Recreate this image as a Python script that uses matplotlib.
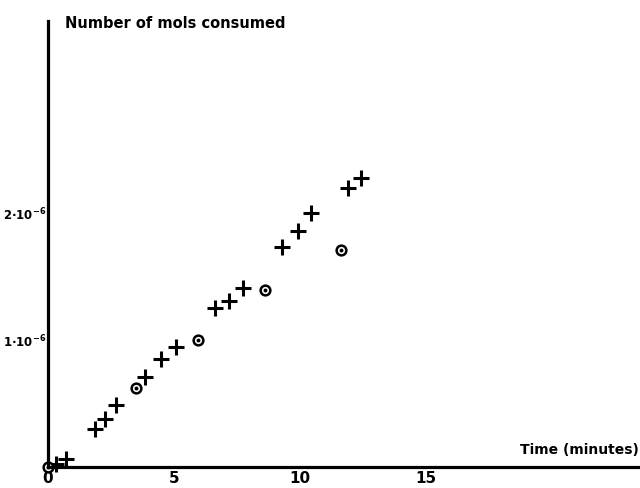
import matplotlib
matplotlib.use("Agg")
import matplotlib.pyplot as plt

plt.rcParams['font.family'] = ['DejaVu Sans']
plt.rcParams['mathtext.default'] = 'bf'

# Data (time in minutes, mols consumed)
cross_t = [0.3, 0.73, 1.87, 2.26, 2.71, 3.85, 4.5, 5.08, 6.61, 7.19, 7.75, 9.27, 9.92, 10.44, 11.92, 12.43]
cross_n = [0.025e-6, 0.063e-6, 0.30e-6, 0.376e-6, 0.486e-6, 0.703e-6, 0.847e-6, 0.941e-6,
           1.247e-6, 1.305e-6, 1.404e-6, 1.728e-6, 1.851e-6, 1.99e-6, 2.186e-6, 2.27e-6]
circle_t = [0.0, 3.48, 5.96, 8.61, 11.64]
circle_n = [0.0, 0.617e-6, 0.998e-6, 1.39e-6, 1.70e-6]

xticks = [0, 5, 10, 15]
xticklabels = ['0', '5', '10', '15']
yticks = [1e-6, 2e-6]
yticklabels = ['1·10$^{-6}$', '2·10$^{-6}$']

fig = plt.figure(figsize=(6.4, 4.89), dpi=100)
ax = fig.add_axes([48/640, 1-468/489, 592/640, 446/489])

ax.plot(cross_t, cross_n, linestyle='none', marker='+', markersize=11,
        markeredgewidth=2.2, color='black', clip_on=False)
ax.plot(circle_t, circle_n, linestyle='none', marker='o', markersize=7,
        markeredgewidth=1.8, markerfacecolor='white', markeredgecolor='black', clip_on=False)
ax.plot(circle_t, circle_n, linestyle='none', marker='o', markersize=1.8,
        color='black', clip_on=False)

ax.set_xlim(0, 23.5)
ax.set_ylim(0, 3.5e-6)

for s in ['top', 'right']:
    ax.spines[s].set_visible(False)
for s in ['left', 'bottom']:
    ax.spines[s].set_linewidth(2.3)

ax.set_xticks(xticks)
ax.set_xticklabels(xticklabels, fontsize=11, fontweight='bold')
ax.set_yticks(yticks)
ax.set_yticklabels(yticklabels, fontsize=8.5, fontweight='bold')
ax.tick_params(axis='both', length=0)
ax.tick_params(axis='x', pad=2)
ax.tick_params(axis='y', pad=1)

fig.text(65/640, 1-23/489, 'Number of mols consumed', fontsize=10.5, fontweight='bold',
         ha='left', va='center')
fig.text(639/640, 1-450/489, 'Time (minutes)', fontsize=10, fontweight='bold',
         ha='right', va='center')

fig.savefig('out.png', dpi=100)
